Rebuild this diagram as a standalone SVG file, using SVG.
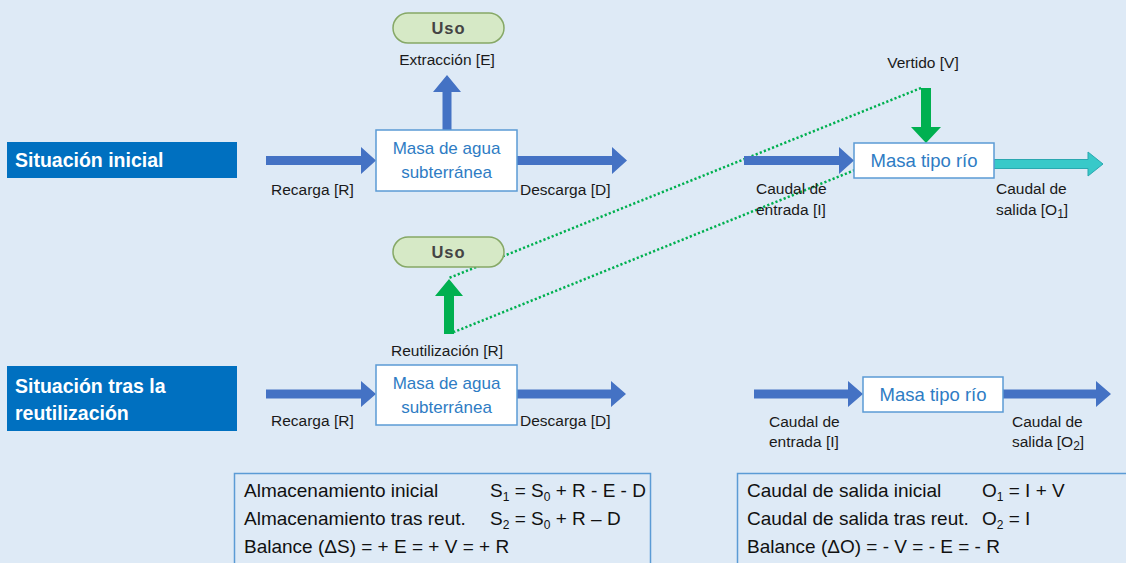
<svg xmlns="http://www.w3.org/2000/svg" width="1126" height="563" viewBox="0 0 1126 563">
<style>
text{font-family:"Liberation Sans",Arial,sans-serif}
.title{fill:#0070C0}
.tt{fill:#fff;font-weight:bold;font-size:19.5px}
.box{fill:#fff;stroke:#5B9BD5;stroke-width:1.5}
.bt{fill:#2E7CC4;font-size:17px;text-anchor:middle}
.bt2{fill:#2E7CC4;font-size:18.5px;text-anchor:middle}
.pill{fill:#D6E9C6;stroke:#86A866;stroke-width:1.5}
.pt{fill:#444;font-weight:bold;font-size:16.5px;text-anchor:middle;letter-spacing:1px}
.lb{fill:#1a1a1a;font-size:15.5px}
.lc{fill:#1a1a1a;font-size:15.5px;text-anchor:middle}
.blue{fill:#4472C4}
.green{fill:#00B050}
.cyan{fill:#38C9C9;stroke:#2AA8B0;stroke-width:1}
.dot{fill:none;stroke:#00B050;stroke-width:2.5;stroke-dasharray:2.2 2.2}
.sum{fill:none;stroke:#5B9BD5;stroke-width:1.5}
.st{fill:#111;font-size:19px}
.sub{font-size:12px}
</style>
<rect width="1126" height="563" fill="#DEEAF6"/>

<g id="title-initial">
<rect class="title" x="7" y="142" width="230" height="36"/>
<text class="tt" x="15" y="167">Situación inicial</text>
</g>
<g id="title-reuse">
<rect class="title" x="7" y="366" width="230" height="65"/>
<text class="tt" x="15" y="393">Situación tras la</text>
<text class="tt" x="15" y="420">reutilización</text>
</g>

<g id="connectors">
<line class="dot" x1="921" y1="88" x2="449" y2="278"/>
<line class="dot" x1="855" y1="170" x2="454" y2="332"/>
<polygon class="blue" points="266,156 361,156 361,147 376,160.5 361,174 361,165 266,165"/>
<polygon class="blue" points="517,156 612,156 612,147 627,160.5 612,174 612,165 517,165"/>
<polygon class="blue" points="442.5,130 442.5,92 433,92 447,75 461,92 451.5,92 451.5,130"/>
<polygon class="blue" points="744,156 839,156 839,147 854,160.5 839,174 839,165 744,165"/>
<polygon class="green" points="921,88 931,88 931,127 941,127 926,143 911,127 921,127"/>
<polygon class="cyan" points="994,159.5 1088,159.5 1088,152 1103,164 1088,176 1088,168.5 994,168.5"/>
<polygon class="blue" points="266,389.5 361,389.5 361,381 376,394 361,407 361,398.5 266,398.5"/>
<polygon class="blue" points="517,389.5 611,389.5 611,381 626,394 611,407 611,398.5 517,398.5"/>
<polygon class="green" points="444,334 444,296 435,296 449,279 463,296 454,296 454,334"/>
<polygon class="blue" points="754,389.5 848,389.5 848,381 863,394 848,407 848,398.5 754,398.5"/>
<polygon class="blue" points="1003,389.5 1096,389.5 1096,381 1111,394 1096,407 1096,398.5 1003,398.5"/>
</g>

<g id="uso-top">
<rect class="pill" x="393" y="13" width="111" height="30" rx="15"/>
<text class="pt" x="448.5" y="34">Uso</text>
</g>
<g id="uso-bottom">
<rect class="pill" x="393" y="237" width="111" height="30" rx="15"/>
<text class="pt" x="448.5" y="258">Uso</text>
</g>

<g id="masa-agua-top">
<rect class="box" x="376" y="130" width="141" height="61"/>
<text class="bt" x="446.5" y="154">Masa de agua</text>
<text class="bt" x="446.5" y="178">subterránea</text>
</g>
<g id="masa-agua-bottom">
<rect class="box" x="376" y="365" width="141" height="60"/>
<text class="bt" x="446.5" y="389">Masa de agua</text>
<text class="bt" x="446.5" y="413">subterránea</text>
</g>
<g id="masa-rio-top">
<rect class="box" x="854" y="143" width="140" height="35"/>
<text class="bt2" x="924" y="167">Masa tipo río</text>
</g>
<g id="masa-rio-bottom">
<rect class="box" x="863" y="377" width="140" height="35"/>
<text class="bt2" x="933" y="401">Masa tipo río</text>
</g>

<g id="labels">
<text class="lc" x="447" y="65">Extracción [E]</text>
<text class="lc" x="923" y="68">Vertido [V]</text>
<text class="lc" x="447" y="356">Reutilización [R]</text>
<text class="lb" x="271" y="195">Recarga [R]</text>
<text class="lb" x="520" y="195">Descarga [D]</text>
<text class="lb" x="756" y="194">Caudal de</text>
<text class="lb" x="756" y="215">entrada [I]</text>
<text class="lb" x="996" y="194">Caudal de</text>
<text class="lb" x="996" y="215">salida [O<tspan class="sub" dy="3">1</tspan><tspan dy="-3">]</tspan></text>
<text class="lb" x="271" y="426">Recarga [R]</text>
<text class="lb" x="520" y="426">Descarga [D]</text>
<text class="lb" x="769" y="427">Caudal de</text>
<text class="lb" x="769" y="447">entrada [I]</text>
<text class="lb" x="1012" y="427">Caudal de</text>
<text class="lb" x="1012" y="447">salida [O<tspan class="sub" dy="3">2</tspan><tspan dy="-3">]</tspan></text>
</g>

<g id="balance-storage">
<rect class="sum" x="234.5" y="473.5" width="416" height="110"/>
<text class="st" x="244" y="497">Almacenamiento inicial</text>
<text class="st" x="490" y="497">S<tspan class="sub" dy="4">1</tspan><tspan dy="-4"> = S</tspan><tspan class="sub" dy="4">0</tspan><tspan dy="-4"> + R - E - D</tspan></text>
<text class="st" x="244" y="525">Almacenamiento tras reut.</text>
<text class="st" x="490" y="525">S<tspan class="sub" dy="4">2</tspan><tspan dy="-4"> = S</tspan><tspan class="sub" dy="4">0</tspan><tspan dy="-4"> + R – D</tspan></text>
<text class="st" x="244" y="553">Balance (ΔS) = + E = + V = + R</text>
</g>
<g id="balance-flow">
<rect class="sum" x="737.5" y="473.5" width="400" height="110"/>
<text class="st" x="747" y="497">Caudal de salida inicial</text>
<text class="st" x="982" y="497">O<tspan class="sub" dy="4">1</tspan><tspan dy="-4"> = I + V</tspan></text>
<text class="st" x="747" y="525">Caudal de salida tras reut.</text>
<text class="st" x="982" y="525">O<tspan class="sub" dy="4">2</tspan><tspan dy="-4"> = I</tspan></text>
<text class="st" x="747" y="553">Balance (ΔO) = - V = - E = - R</text>
</g>
</svg>
